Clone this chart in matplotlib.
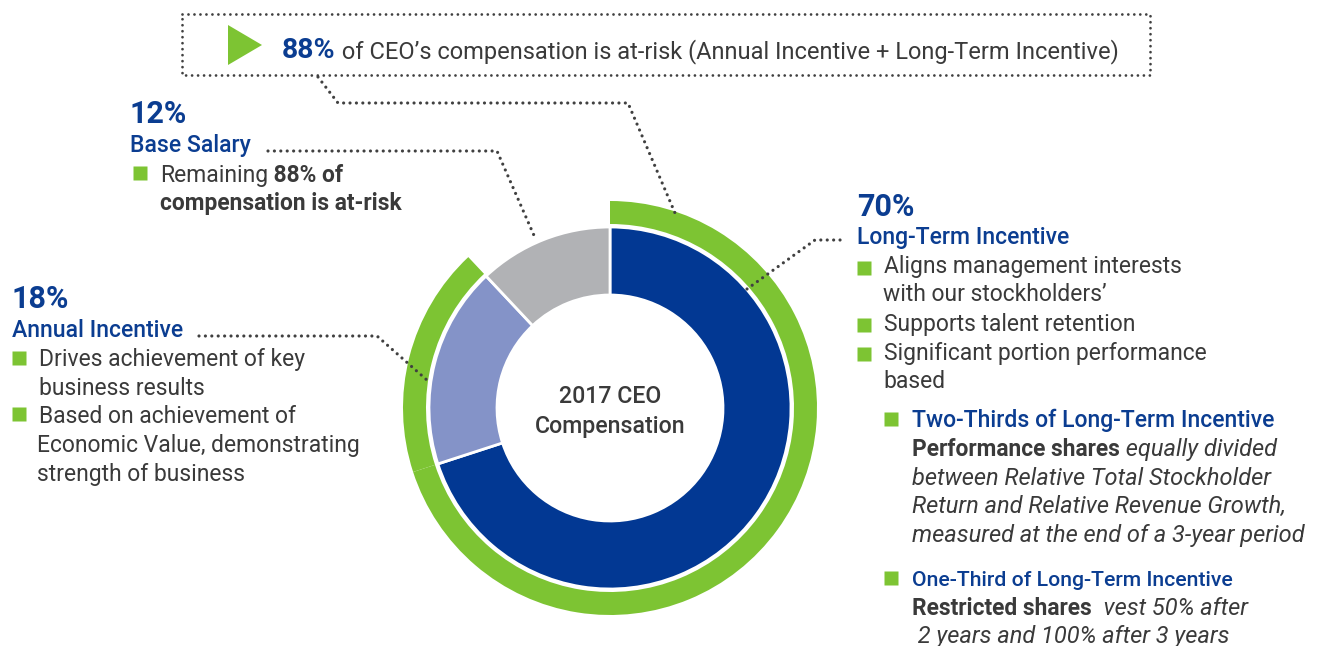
import matplotlib
matplotlib.use("Agg")
import matplotlib.pyplot as plt
from matplotlib.patches import Polygon

plt.rcParams['font.family'] = ['Roboto', 'DejaVu Sans']
plt.rcParams['lines.scale_dashes'] = False

#==================== data
components = ['Long-Term Incentive', 'Annual Incentive', 'Base Salary']
shares = [70, 18, 12]          # % of CEO pay, clockwise from 12 o'clock
at_risk_flags = [True, True, False]
chart_year = 2017
at_risk = sum(s for s, f in zip(shares, at_risk_flags) if f)

#==================== colours
NAVY = '#0b3d91'
BLUE = '#023893'
LIGHT = '#8493c8'
GREY = '#b1b2b5'
GREEN = '#7dc433'
TEXT = '#3a3a3a'
DOT = '#404040'

W, H = 1317, 646
fig = plt.figure(figsize=(W/100, H/100), dpi=100)
ax = fig.add_axes([0, 0, 1, 1])

def Y(y):
  # image row -> axis y
  return H - y

cx, cy = 610, Y(408)

#==================== donuts
ax.pie(shares, colors=[BLUE, LIGHT, GREY], radius=181, center=(cx, cy),
       startangle=90, counterclock=False,
       wedgeprops=dict(width=68, edgecolor='white', linewidth=2))
ring_cols = [GREEN if f else 'none' for f in at_risk_flags]
ax.pie(shares, colors=ring_cols, radius=207, center=(cx, cy),
       startangle=90, counterclock=False,
       wedgeprops=dict(width=23, edgecolor='none'))

ax.set_xlim(0, W)
ax.set_ylim(0, H)
ax.axis('off')

#==================== helpers
def dotted(pts, lw=2.3, gap=4.6):
  xs = [p[0] for p in pts]
  ys = [Y(p[1]) for p in pts]
  ax.plot(xs, ys, color=DOT, lw=lw, dashes=(0.01, gap),
          dash_capstyle='round', solid_capstyle='round')

def line(x, y, parts):
  t = None
  for s, kw in parts:
    if t is None:
      t = ax.text(x, Y(y), s, va='baseline', **kw)
    else:
      t = ax.annotate(s, xy=(1, 0), xycoords=t, va='bottom', **kw)
  return t

def bullet(x, y):
  ax.plot([x], [Y(y)], marker='s', ms=9.4, color=GREEN, mec='none')

body = dict(fontsize=16.5, color=TEXT)
bold = dict(fontsize=16.4, color=TEXT, fontweight='bold')
ital = dict(fontsize=17, color=TEXT, style='italic')
head = dict(fontsize=16.6, color=NAVY, fontweight='medium')
pct = dict(fontsize=22, color=NAVY, fontweight='bold')

#==================== top banner
dotted([(182, 14), (1150, 14), (1150, 75), (182, 75), (182, 14)], lw=2.0, gap=4.3)
ax.add_patch(Polygon([(228, Y(25)), (262, Y(45)), (228, Y(65))], closed=True,
                     color=GREEN, lw=0))
line(282, 58, [(f'{at_risk}%', dict(fontsize=20.5, color=NAVY, fontweight='bold')),
               (' of CEO’s compensation is at-risk (Annual Incentive + Long-Term Incentive)',
                dict(fontsize=17, color=TEXT))])
dotted([(318, 77), (338, 103), (628, 103), (675, 213)])

#==================== base salary
line(130, 123, [(f'{shares[2]}%', pct)])
line(130, 152, [(components[2], head)])
dotted([(268, 151), (497, 151), (536, 240)])
bullet(139.5, 173)
line(160, 182, [('Remaining', body), (f' {at_risk}% of', bold)])
line(160, 210, [('compensation is at-risk', bold)])

#==================== annual incentive
line(12, 308, [(f'{shares[1]}%', pct)])
line(12, 337, [(components[1], head)])
dotted([(199, 336), (377, 336), (428, 381)])
bullet(18.5, 357.5)
line(39, 366, [('Drives achievement of key', body)])
line(39, 395, [('business results', body)])
bullet(18.5, 414)
line(39, 423, [('Based on achievement of', body)])
line(37, 452, [('Economic Value, demonstrating', body)])
line(37, 481, [('strength of business', body)])

#==================== long-term incentive
line(857, 216, [(f'{shares[0]}%', pct)])
line(857, 244, [(components[0], head)])
dotted([(747, 289), (815, 240), (843, 240)])
bullet(863.5, 268)
line(884, 273, [('Aligns management interests', body)])
line(883, 301, [('with our stockholders’', body)])
bullet(863.5, 324.5)
line(884, 331, [('Supports talent retention', body)])
bullet(863.5, 353.5)
line(884, 360, [('Significant portion performance', body)])
line(883, 388, [('based', body)])

bullet(890.5, 418.5)
line(912, 427, [('Two-Thirds of Long-Term Incentive', head)])
line(912, 456, [('Performance shares', bold), (' equally divided', ital)])
line(912, 485, [('between Relative Total Stockholder', ital)])
line(912, 513, [('Return and Relative Revenue Growth,', ital)])
line(912, 542, [('measured at the end of a 3-year period', ital)])

bullet(890.5, 578)
line(912, 586, [('One-Third of Long-Term Incentive', dict(head, fontsize=15.3))])
line(912, 615, [('Restricted shares', bold), ('  vest 50% after', ital)])
line(912, 643, [(' 2 years and 100% after 3 years', ital)])

#==================== centre label
ax.text(cx, Y(403), f'{chart_year} CEO', ha='center', va='baseline',
        fontsize=16.7, color=TEXT, fontweight='medium')
ax.text(cx, Y(433), 'Compensation', ha='center', va='baseline',
        fontsize=16.7, color=TEXT, fontweight='medium')

fig.savefig('out.png', dpi=100)
